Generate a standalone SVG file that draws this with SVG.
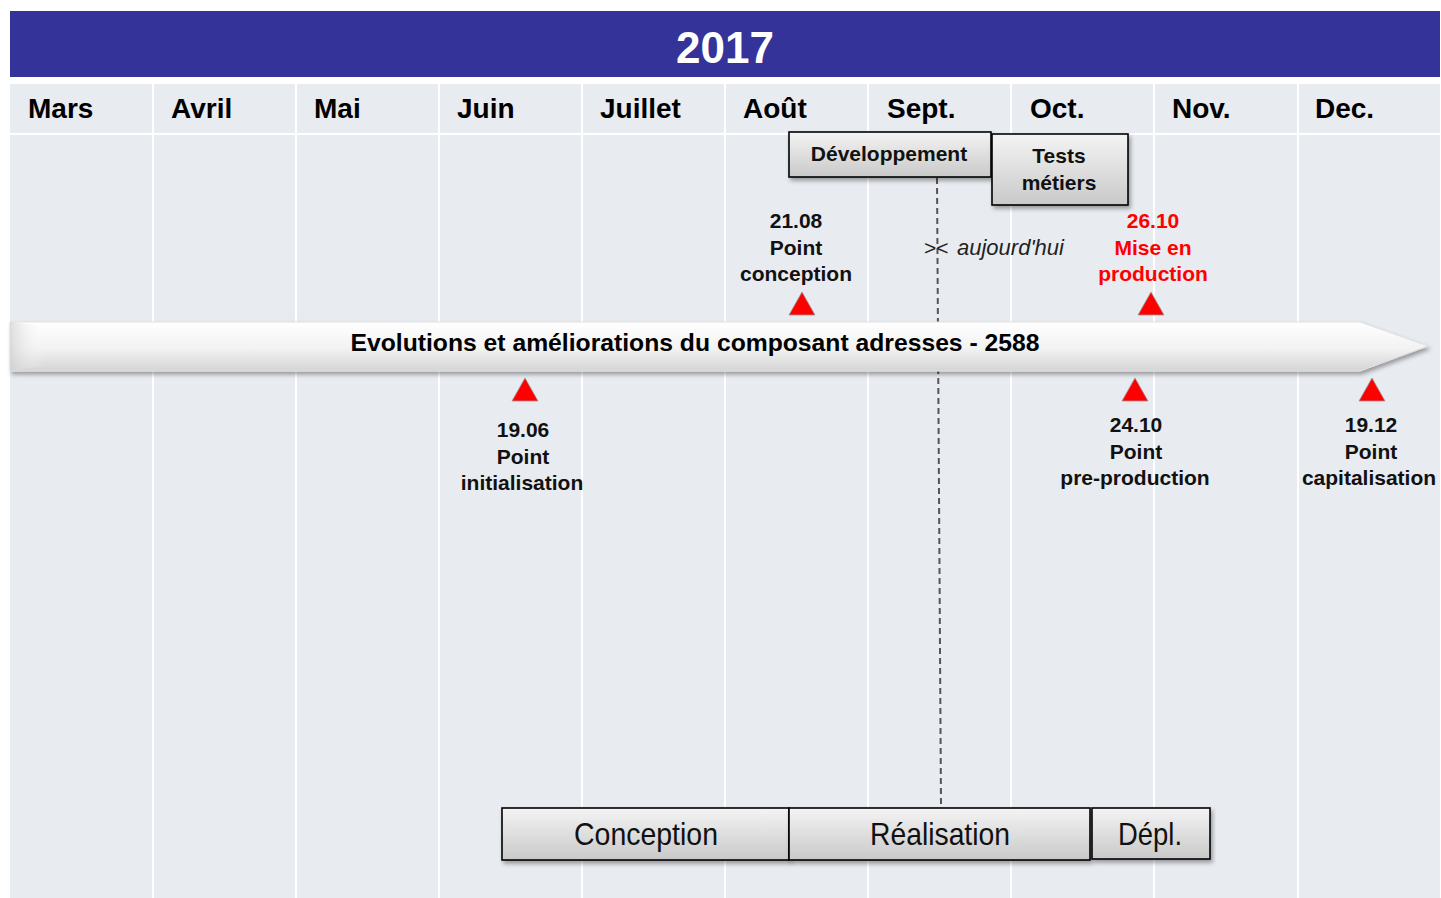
<svg xmlns="http://www.w3.org/2000/svg" width="1441" height="898" viewBox="0 0 1441 898">
  <defs>
    <linearGradient id="boxGrad" x1="0" y1="0" x2="0" y2="1">
      <stop offset="0" stop-color="#F4F4F4"/>
      <stop offset="1" stop-color="#C9C9C9"/>
    </linearGradient>
    <linearGradient id="arrowGrad" x1="0" y1="0" x2="0" y2="1">
      <stop offset="0" stop-color="#FFFFFF"/>
      <stop offset="0.55" stop-color="#F2F2F2"/>
      <stop offset="1" stop-color="#D4D4D4"/>
    </linearGradient>
    <linearGradient id="leftGrad" x1="0" y1="0" x2="1" y2="0">
      <stop offset="0" stop-color="#CFCFCF"/>
      <stop offset="1" stop-color="#FFFFFF" stop-opacity="0"/>
    </linearGradient>
    <filter id="shadow" x="-5%" y="-20%" width="110%" height="150%">
      <feDropShadow dx="2" dy="3" stdDeviation="2" flood-color="#000" flood-opacity="0.35"/>
    </filter>
  </defs>
  <style>
    .month { font-family: "Liberation Sans", Arial, sans-serif; font-weight: bold; font-size: 28px; fill: #000; }
    .ms { font-family: "Liberation Sans", Arial, sans-serif; font-weight: bold; font-size: 21px; fill: #111; text-anchor: middle; }
    .red { fill: #FF0000; }
    .box { fill: url(#boxGrad); stroke: #000; stroke-width: 1.6; filter: url(#shadow); }
    .boxtxt { font-family: "Liberation Sans", Arial, sans-serif; font-weight: bold; font-size: 21px; fill: #111; text-anchor: middle; }
    .phase { font-family: "Liberation Sans Narrow", "Liberation Sans", Arial, sans-serif; font-size: 32px; fill: #111; text-anchor: middle; }
    .tri { fill: #FF0000; stroke: #999; stroke-width: 0.8; }
    .vline { stroke: #FFFFFF; stroke-width: 2; }
  </style>

  <rect x="0" y="0" width="1441" height="898" fill="#FFFFFF"/>

  <g id="grid">
    <rect x="10" y="84" width="1430" height="814" fill="#E8EBF0"/>
    <line x1="10" y1="134" x2="1440" y2="134" class="vline"/>
    <line x1="153" y1="78" x2="153" y2="898" class="vline"/>
    <line x1="296" y1="78" x2="296" y2="898" class="vline"/>
    <line x1="439" y1="78" x2="439" y2="898" class="vline"/>
    <line x1="582" y1="78" x2="582" y2="898" class="vline"/>
    <line x1="725" y1="78" x2="725" y2="898" class="vline"/>
    <line x1="868" y1="78" x2="868" y2="898" class="vline"/>
    <line x1="1011" y1="78" x2="1011" y2="898" class="vline"/>
    <line x1="1154" y1="78" x2="1154" y2="898" class="vline"/>
    <line x1="1298" y1="78" x2="1298" y2="898" class="vline"/>
  </g>

  <g id="header">
    <rect x="10" y="11" width="1430" height="66" fill="#333399"/>
    <text x="725" y="63" text-anchor="middle" font-family="'Liberation Sans', Arial, sans-serif" font-weight="bold" font-size="44" fill="#FFFFFF">2017</text>
  </g>

  <g id="months">
    <text class="month" x="28" y="118">Mars</text>
    <text class="month" x="171" y="118">Avril</text>
    <text class="month" x="314" y="118">Mai</text>
    <text class="month" x="457" y="118">Juin</text>
    <text class="month" x="600" y="118">Juillet</text>
    <text class="month" x="743" y="118">Août</text>
    <text class="month" x="887" y="118">Sept.</text>
    <text class="month" x="1030" y="118">Oct.</text>
    <text class="month" x="1172" y="118">Nov.</text>
    <text class="month" x="1315" y="118">Dec.</text>
  </g>

  <g id="connectors">
    <line x1="937" y1="178" x2="941" y2="805" stroke="#555" stroke-width="2" stroke-dasharray="6,4"/>
  </g>

  <g id="main-arrow">
    <polygon points="10,322 1360,322 1428,346 1360,371 10,371" fill="url(#arrowGrad)" stroke="#E0E0E0" stroke-width="1" filter="url(#shadow)"/>
    <polygon points="10,322 45,326 45,366 10,371" fill="url(#leftGrad)" opacity="0.7"/>
    <text x="695" y="351" text-anchor="middle" font-family="'Liberation Sans', Arial, sans-serif" font-weight="bold" font-size="24" textLength="689" lengthAdjust="spacingAndGlyphs" fill="#000">Evolutions et améliorations du composant adresses - 2588</text>
  </g>

  <g id="developpement">
    <rect class="box" x="789" y="132" width="202" height="45"/>
    <text class="boxtxt" x="889" y="161">Développement</text>
  </g>

  <g id="tests-metiers">
    <rect class="box" x="992" y="134" width="136" height="71"/>
    <text class="boxtxt" x="1059" y="163">Tests</text>
    <text class="boxtxt" x="1059" y="190">métiers</text>
  </g>

  <g id="aujourdhui">
    <text x="924" y="255" font-family="'Liberation Sans', Arial, sans-serif" font-size="21" fill="#222" letter-spacing="0">&gt;&lt;</text>
    <text x="957" y="255" font-family="'Liberation Sans', Arial, sans-serif" font-style="italic" font-size="22" fill="#222">aujourd'hui</text>
  </g>

  <g id="m-2108">
    <text class="ms" x="796" y="228">21.08</text>
    <text class="ms" x="796" y="255">Point</text>
    <text class="ms" x="796" y="281">conception</text>
    <polygon class="tri" points="802,292 815,315 789,315"/>
  </g>

  <g id="m-2610">
    <text class="ms red" x="1153" y="228">26.10</text>
    <text class="ms red" x="1153" y="255">Mise en</text>
    <text class="ms red" x="1153" y="281">production</text>
    <polygon class="tri" points="1151,292 1164,315 1138,315"/>
  </g>

  <g id="m-1906">
    <polygon class="tri" points="525,378 538,401 512,401"/>
    <text class="ms" x="523" y="437">19.06</text>
    <text class="ms" x="523" y="464">Point</text>
    <text class="ms" x="522" y="490">initialisation</text>
  </g>

  <g id="m-2410">
    <polygon class="tri" points="1135,378 1148,401 1122,401"/>
    <text class="ms" x="1136" y="432">24.10</text>
    <text class="ms" x="1136" y="459">Point</text>
    <text class="ms" x="1135" y="485">pre-production</text>
  </g>

  <g id="m-1912">
    <polygon class="tri" points="1372,378 1385,401 1359,401"/>
    <text class="ms" x="1371" y="432">19.12</text>
    <text class="ms" x="1371" y="459">Point</text>
    <text class="ms" x="1369" y="485">capitalisation</text>
  </g>

  <g id="phase-conception">
    <rect class="box" x="502" y="808" width="287" height="52"/>
    <text class="phase" x="646" y="845" textLength="144" lengthAdjust="spacingAndGlyphs">Conception</text>
  </g>
  <g id="phase-realisation">
    <rect class="box" x="789" y="808" width="301" height="52"/>
    <text class="phase" x="940" y="845" textLength="140" lengthAdjust="spacingAndGlyphs">Réalisation</text>
  </g>
  <g id="phase-depl">
    <rect class="box" x="1092" y="808" width="118" height="51"/>
    <text class="phase" x="1150" y="845" textLength="64" lengthAdjust="spacingAndGlyphs">Dépl.</text>
  </g>
</svg>
